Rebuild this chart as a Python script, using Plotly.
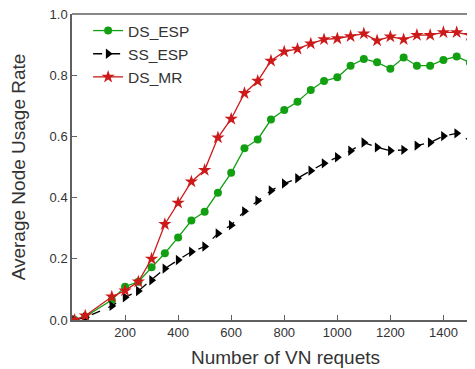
import plotly.graph_objects as go

requests = [10, 50, 150, 200, 250, 300, 350, 400, 450, 500, 550, 600, 650, 700, 750,
            800, 850, 900, 950, 1000, 1050, 1100, 1150, 1200, 1250, 1300, 1350, 1400, 1450, 1500]

ds_esp = [0.0, 0.011, 0.065, 0.109, 0.125, 0.172, 0.218, 0.27, 0.325, 0.354, 0.416, 0.481,
          0.561, 0.59, 0.655, 0.686, 0.713, 0.752, 0.781, 0.793, 0.831, 0.853, 0.842, 0.821,
          0.858, 0.831, 0.831, 0.85, 0.861, 0.841]

ss_esp = [0.0, 0.008, 0.046, 0.074, 0.095, 0.13, 0.168, 0.196, 0.223, 0.24, 0.283, 0.31,
          0.355, 0.39, 0.423, 0.446, 0.463, 0.488, 0.512, 0.532, 0.553, 0.58, 0.564, 0.553,
          0.556, 0.57, 0.58, 0.601, 0.61, 0.586]

ds_mr = [0.0, 0.014, 0.076, 0.096, 0.125, 0.20, 0.313, 0.383, 0.452, 0.49, 0.596, 0.657,
         0.741, 0.781, 0.847, 0.877, 0.886, 0.903, 0.917, 0.92, 0.927, 0.936, 0.913, 0.926,
         0.917, 0.931, 0.931, 0.94, 0.94, 0.931]

x_ticks = [200, 400, 600, 800, 1000, 1200, 1400]
y_ticks = [0.0, 0.2, 0.4, 0.6, 0.8, 1.0]

GREEN = "#12a012"
RED = "#cc1a1a"
BLACK = "#000000"
FONT = "Liberation Sans, Arial, sans-serif"
TXT = "#333333"

fig = go.Figure()
fig.add_trace(go.Scatter(x=requests, y=ds_esp, name="DS_ESP", mode="lines+markers",
                         line=dict(color=GREEN, width=1.3),
                         marker=dict(symbol="circle", size=8, color=GREEN)))
fig.add_trace(go.Scatter(x=requests, y=ss_esp, name="SS_ESP", mode="lines+markers",
                         line=dict(color=BLACK, width=1.3, dash="dash"),
                         marker=dict(symbol="triangle-right", size=9, color=BLACK)))
fig.add_trace(go.Scatter(x=requests, y=ds_mr, name="DS_MR", mode="lines+markers",
                         line=dict(color=RED, width=1.3),
                         marker=dict(symbol="star", size=10, color=RED)))

axis_color = "#606060"
fig.update_layout(
    width=467, height=361,
    margin=dict(l=64, r=0, t=6, b=49),
    paper_bgcolor="white", plot_bgcolor="white",
    font=dict(family=FONT, color=TXT),
    showlegend=True,
    legend=dict(x=0.04, y=1.0, xanchor="left", yanchor="top",
                bgcolor="rgba(0,0,0,0)", font=dict(size=15.5, color=TXT),
                itemwidth=30, tracegroupgap=0),
    xaxis=dict(range=[0, 1519], tickvals=x_ticks, ticks="inside", ticklen=5,
               tickcolor=axis_color, showline=True, linecolor=axis_color, linewidth=1.5,
               showgrid=False, zeroline=False, tickfont=dict(size=13, color=TXT)),
    yaxis=dict(range=[0, 1.0], tickvals=y_ticks, tickformat=".1f", ticks="inside", ticklen=5,
               tickcolor=axis_color, showline=True, linecolor=axis_color, linewidth=1.5,
               showgrid=False, zeroline=False, tickfont=dict(size=13, color=TXT),
               ticklabeloverflow="allow",
               title=dict(text="Average Node Usage Rate", font=dict(size=19, color=TXT),
                          standoff=20)),
    annotations=[dict(text="Number of VN requets", xref="paper", yref="paper",
                      x=0.53, y=0, yshift=-37, xanchor="center", yanchor="middle",
                      showarrow=False, font=dict(size=19, color=TXT))],
    shapes=[dict(type="line", xref="paper", yref="paper", x0=0, x1=1, y0=1, y1=1,
                 line=dict(color=axis_color, width=1.5))],
)

fig.write_html("out.html")
